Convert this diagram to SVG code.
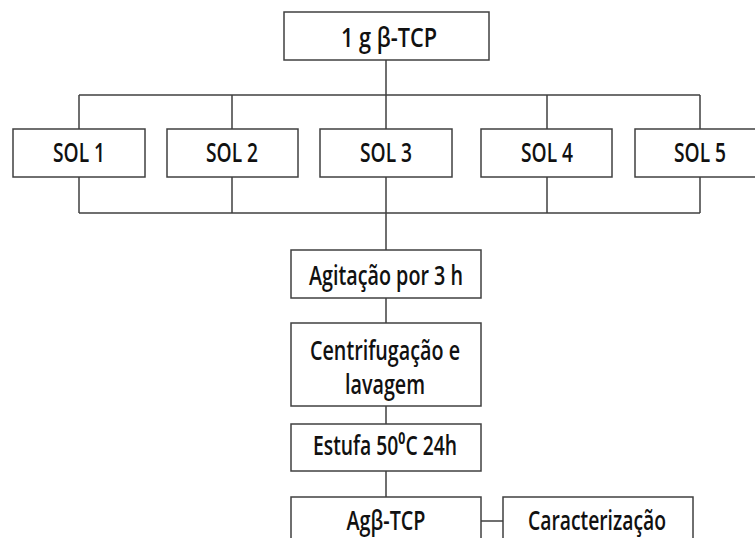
<svg xmlns="http://www.w3.org/2000/svg" width="755" height="538" viewBox="0 0 755 538">
<style>
.box{fill:#fff;stroke:#404040;stroke-width:1.5}
.ln{stroke:#404040;stroke-width:1.5;fill:none}
text{font-family:"Open Sans","DejaVu Sans","Liberation Sans",sans-serif;font-weight:600;font-size:26.5px;fill:#111;text-anchor:middle}
</style>
<rect width="755" height="538" fill="#fff"/>
<g id="connectors">
<path class="ln" d="M386 60V129M79 95H700M79 95V129M232 95V129M547 95V129M700 95V129"/>
<path class="ln" d="M79 177V213M232 177V213M547 177V213M700 177V213M79 213H700M386 177V250"/>
<path class="ln" d="M386 298V323M386 406V424M386 471V497M481 521H503"/>
</g>
<g id="n-tcp"><rect class="box" x="284" y="12" width="205" height="48"/><text x="389" y="46.5" textLength="96" lengthAdjust="spacingAndGlyphs">1 g β-TCP</text></g>
<g id="n-sol1"><rect class="box" x="13" y="129" width="132" height="48"/><text x="79" y="162" textLength="52" lengthAdjust="spacingAndGlyphs">SOL 1</text></g>
<g id="n-sol2"><rect class="box" x="167" y="129" width="131" height="48"/><text x="232" y="162" textLength="52" lengthAdjust="spacingAndGlyphs">SOL 2</text></g>
<g id="n-sol3"><rect class="box" x="320" y="129" width="132" height="48"/><text x="386" y="162" textLength="52" lengthAdjust="spacingAndGlyphs">SOL 3</text></g>
<g id="n-sol4"><rect class="box" x="481" y="129" width="131" height="48"/><text x="547" y="162" textLength="52" lengthAdjust="spacingAndGlyphs">SOL 4</text></g>
<g id="n-sol5"><rect class="box" x="635" y="129" width="132" height="48"/><text x="700" y="162" textLength="52" lengthAdjust="spacingAndGlyphs">SOL 5</text></g>
<g id="n-agit"><rect class="box" x="291" y="250" width="190" height="48"/><text x="386" y="285" textLength="154" lengthAdjust="spacingAndGlyphs">Agitação por 3 h</text></g>
<g id="n-centr"><rect class="box" x="291" y="323" width="190" height="83"/><text x="385" y="360" textLength="150" lengthAdjust="spacingAndGlyphs">Centrifugação e</text><text x="385" y="394" textLength="80" lengthAdjust="spacingAndGlyphs">lavagem</text></g>
<g id="n-estufa"><rect class="box" x="291" y="424" width="190" height="47"/><text x="385" y="455" textLength="144" lengthAdjust="spacingAndGlyphs">Estufa 50⁰C 24h</text></g>
<g id="n-ag"><rect class="box" x="291" y="497" width="190" height="60"/><text x="386" y="530" textLength="79" lengthAdjust="spacingAndGlyphs">Agβ-TCP</text></g>
<g id="n-carac"><rect class="box" x="503" y="497" width="190" height="60"/><text x="597" y="530" textLength="138" lengthAdjust="spacingAndGlyphs">Caracterização</text></g>
</svg>
